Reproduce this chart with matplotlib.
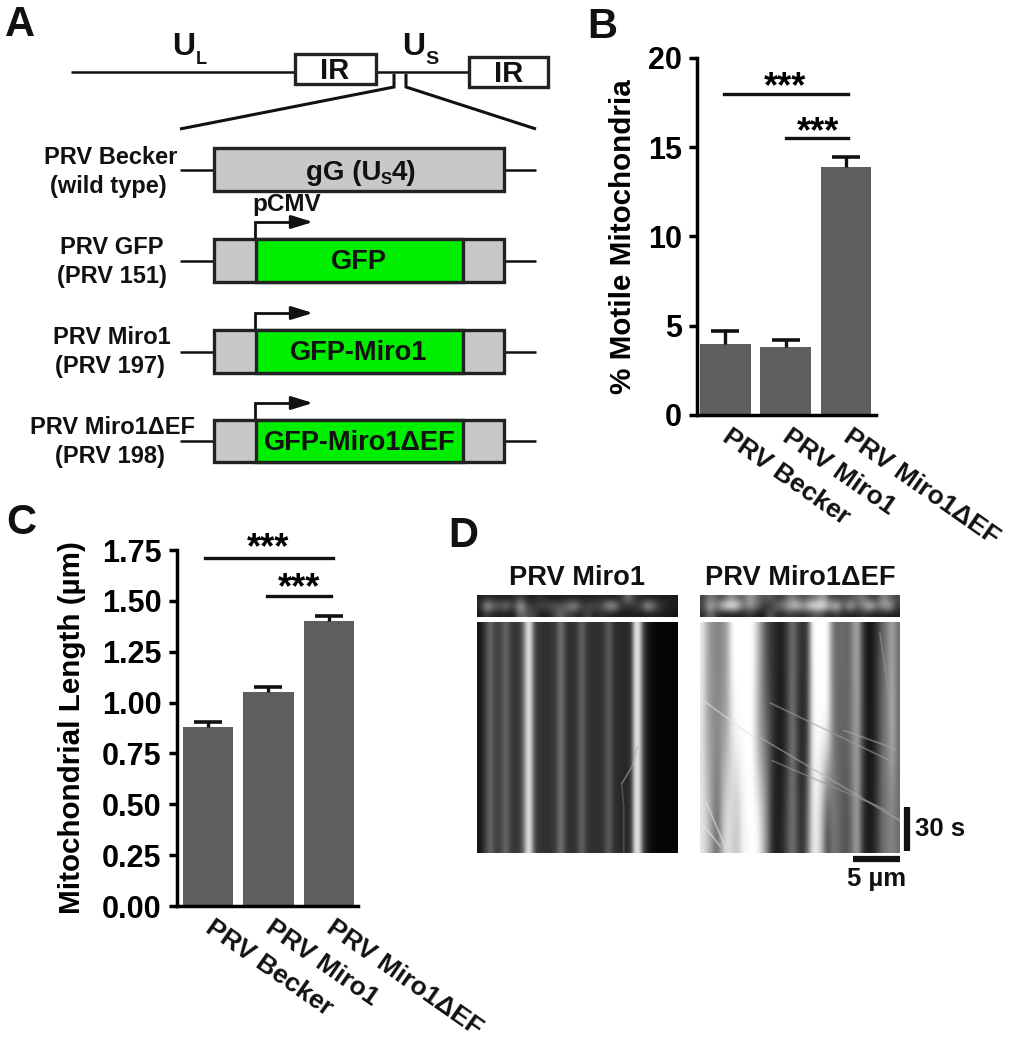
import matplotlib
matplotlib.use('Agg')
import matplotlib.pyplot as plt
import numpy as np

plt.rcParams['font.family'] = ['Liberation Sans', 'DejaVu Sans']
plt.rcParams['font.weight'] = 'bold'

W, H = 1016, 1050
# bar data
cats = ['PRV Becker', 'PRV Miro1', 'PRV Miro1\u0394EF']
motile = [4.0, 3.8, 13.9]
motile_err = [0.69, 0.41, 0.56]
length = [0.88, 1.05, 1.40]
length_err = [0.023, 0.025, 0.025]
bar_color = '#5e5e5e'

# kymograph brightness, one value per column (read across the image)
kymo_left = [20, 30, 55, 80, 105, 80, 65, 65, 80, 105, 85, 60, 55, 55, 70, 110, 200, 230, 150, 70,
             55, 50, 48, 48, 50, 55, 70, 110, 105, 65, 50, 48, 50, 65, 95, 90, 60, 50, 48, 48,
             48, 50, 60, 90, 85, 55, 45, 42, 40, 40, 42, 70, 200, 235, 180, 70, 35, 20, 12, 8,
             6, 5, 5, 5, 5, 5, 5]
kymo_right_top = [235, 170, 140, 130, 140, 170, 255, 255, 255, 255, 255, 200, 130, 70, 50, 35, 30, 70, 115, 70,
                  45, 60, 250, 255, 255, 255, 130, 100, 110, 95, 130, 180, 70, 20, 25, 60, 100, 130, 170, 110]
kymo_right_mid = [225, 165, 150, 140, 150, 170, 230, 255, 255, 255, 255, 170, 130, 100, 60, 25, 25, 60, 130, 60,
                  30, 60, 240, 255, 255, 255, 140, 100, 100, 100, 130, 170, 70, 20, 25, 60, 110, 130, 190, 110]
kymo_right_bot = [230, 200, 150, 100, 190, 230, 210, 190, 240, 250, 255, 255, 200, 130, 40, 30, 40, 80, 120, 75,
                  40, 110, 230, 235, 170, 60, 120, 110, 90, 80, 120, 170, 60, 25, 30, 60, 110, 120, 130, 110]
strip_left = [[30, 40, 35, 35, 30, 35, 70, 30, 30, 50, 30, 25, 30, 30, 30, 30, 35, 30, 40, 30, 30, 40, 130, 60, 30, 30, 30, 30, 30, 25],
              [40, 190, 110, 100, 130, 60, 200, 70, 60, 70, 80, 90, 90, 120, 170, 80, 60, 90, 70, 170, 170, 60, 50, 60, 80, 190, 110, 50, 40, 30],
              [20, 60, 30, 30, 30, 20, 120, 80, 70, 30, 30, 60, 110, 60, 50, 30, 80, 30, 50, 30, 30, 25, 30, 30, 25, 30, 30, 30, 25, 20]]
strip_right = [[60, 130, 90, 70, 150, 110, 90, 170, 110, 80, 100, 60, 60, 130, 100, 70, 100, 120, 170, 70, 60, 70, 70, 100, 120, 60, 60, 150, 90, 70],
               [70, 200, 120, 230, 255, 255, 120, 170, 120, 60, 50, 110, 140, 190, 230, 160, 240, 255, 255, 170, 230, 90, 200, 100, 150, 230, 120, 170, 190, 60],
               [40, 120, 50, 30, 30, 30, 30, 60, 30, 20, 100, 40, 40, 60, 40, 50, 50, 90, 60, 30, 60, 30, 30, 30, 50, 30, 30, 30, 30, 30]]

# moving particle tracks, fractions of image width / height
left_tracks = [([0.797, 0.775, 0.72], [0.54, 0.62, 0.70], 170), ([0.72, 0.73, 0.73], [0.70, 0.80, 1.0], 110)]
right_tracks = [([0.0, 0.27], [0.33, 0.50], 225), ([0.30, 1.0], [0.50, 0.86], 175), ([0.35, 0.95], [0.35, 0.60], 160),
                ([0.36, 0.95], [0.60, 0.82], 150), ([0.72, 0.98], [0.47, 0.55], 170), ([0.0, 0.10], [0.86, 0.97], 235),
                ([0.90, 0.95], [0.05, 0.35], 150), ([0.03, 0.13], [0.78, 0.98], 230)]

fig = plt.figure(figsize=(W / 100, H / 100), dpi=100, facecolor='white')


def px_axes(x0, y0, x1, y1):
    # y0 is the top edge in image pixels
    return fig.add_axes([x0 / W, 1 - y1 / H, (x1 - x0) / W, (y1 - y0) / H])


bg = fig.add_axes([0, 0, 1, 1])
bg.set_xlim(0, W)
bg.set_ylim(H, 0)
bg.axis('off')
ink = '#111111'


def line(xs, ys, lw=2.0, c=ink):
    bg.plot(xs, ys, color=c, lw=lw, solid_capstyle='butt', solid_joinstyle='miter')


def box(x0, y0, x1, y1, fc='white', lw=2.4):
    bg.add_patch(plt.Rectangle((x0, y0), x1 - x0, y1 - y0, fc=fc, ec='#222222', lw=lw, zorder=3))


def txt(x, y, s, size=15, ha='center', **kw):
    bg.text(x, y, s, fontsize=size, ha=ha, va='center', color=ink, fontweight='bold', zorder=5, **kw)


# panel letters
for letter, x, y in [('A', 20, 25), ('B', 602, 27), ('C', 21, 523), ('D', 463, 536)]:
    txt(x, y, letter, size=30)

# panel A, genome line
line([71, 295], [72, 72], 1.8)
box(295, 54, 376, 84)
line([376, 469], [72, 72], 1.8)
box(469, 57, 548, 87)
txt(335, 71, 'IR', 21)
txt(509, 74, 'IR', 21)
txt(184, 47, 'U', 23)
txt(196, 59, 'L', 13, ha='left')
txt(414, 47, 'U', 23)
txt(425, 59, 'S', 14, ha='left')
line([394, 394, 180], [74, 87, 129], 2.2)
line([406, 406, 536], [74, 87, 129], 2.2)

# panel A, constructs
rows = [(148, 191), (239, 282), (330, 373), (420, 462)]
names = [('PRV Becker', 111, 158), ('(wild type)', 108, 186),
         ('PRV GFP', 112, 248), ('(PRV 151)', 112, 277),
         ('PRV Miro1', 112, 338), ('(PRV 197)', 110, 367),
         ('PRV Miro1\u0394EF', 112, 428), ('(PRV 198)', 110, 456)]
for s, x, y in names:
    txt(x, y, s, 17)
for i, (y0, y1) in enumerate(rows):
    ym = (y0 + y1) / 2
    line([180, 214], [ym, ym], 1.8)
    line([504, 536], [ym, ym], 1.8)
    box(214, y0, 504, y1, fc='#c8c8c8')
    if i > 0:
        box(256, y0, 463, y1, fc='#00ee00')
        line([255, 255, 298], [y0, y0 - 17, y0 - 17], 2.0)
        bg.annotate('', xy=(313, y0 - 17), xytext=(292, y0 - 17),
                    arrowprops=dict(arrowstyle='-|>,head_length=0.65,head_width=0.2', color=ink, lw=2,
                                    mutation_scale=20, shrinkA=0, shrinkB=0))
txt(381, 173, 'gG (U', 20, ha='right')
txt(386, 180, 'S', 12)
txt(392, 173, '4)', 20, ha='left')
txt(287, 204, 'pCMV', 17.5)
txt(359, 262, 'GFP', 19.5)
txt(359, 353, 'GFP-Miro1', 19.5)
txt(360, 443, 'GFP-Miro1\u0394EF', 19.5)


def bars(rect, vals, errs, ymax, ticks, ticklabels, ylabel, xlim, lab_x):
    ax = px_axes(*rect)
    x = np.arange(len(cats))
    tops = np.array(vals) + np.array(errs)
    ax.bar(x, vals, width=0.84, color=bar_color)
    ax.vlines(x, vals, tops, color='#111111', lw=2.4)
    ax.plot(x, tops, ls='none', marker='_', ms=20, mew=2.6, color='#111111')
    ax.set_xlim(*xlim)
    ax.set_ylim(0, ymax)
    for s in ['top', 'right']:
        ax.spines[s].set_visible(False)
    for s in ['left', 'bottom']:
        ax.spines[s].set_linewidth(2.5)
    ax.set_yticks(ticks)
    ax.set_yticklabels(ticklabels, fontsize=22, fontweight='bold')
    ax.tick_params(axis='y', width=2.5, length=6, pad=5)
    ax.set_xticks([])
    for xi, c in zip(x, cats):
        ax.annotate(c, (xi, 0), xycoords=('data', 'axes fraction'), xytext=(4.7, -7), textcoords='offset points',
                    rotation=-35, ha='left', va='top', rotation_mode='anchor', fontsize=19, fontweight='bold',
                    color=ink, annotation_clip=False)
    ax.set_ylabel(ylabel, fontsize=21.3, fontweight='bold')
    ax.yaxis.set_label_coords(lab_x, 0.5)
    ax.patch.set_alpha(0)
    return ax


ax_b = bars((697, 58, 876, 415), motile, motile_err, 20, [0, 5, 10, 15, 20], ['0', '5', '10', '15', '20'],
            '% Motile Mitochondria', (-0.473, 2.5), -0.335)
ax_b.plot([-0.03, 2.03], [18.0, 18.0], color=ink, lw=2.4, clip_on=False)
ax_b.plot([1.0, 2.03], [15.5, 15.5], color=ink, lw=2.4, clip_on=False)
ax_b.text(0.99, 18.35, '***', fontsize=26, ha='center', va='center', fontweight='bold')
ax_b.text(1.53, 15.83, '***', fontsize=26, ha='center', va='center', fontweight='bold')

ax_c = bars((177, 550, 358, 906), length, length_err, 1.75, [0, 0.25, 0.5, 0.75, 1.0, 1.25, 1.5, 1.75],
            ['0.00', '0.25', '0.50', '0.75', '1.00', '1.25', '1.50', '1.75'],
            'Mitochondrial Length (\u00b5m)', (-0.512, 2.48), -0.505)
ax_c.plot([-0.05, 2.07], [1.711, 1.711], color=ink, lw=2.4, clip_on=False)
ax_c.plot([0.97, 2.03], [1.524, 1.524], color=ink, lw=2.4, clip_on=False)
ax_c.text(1.0, 1.757, '***', fontsize=26, ha='center', va='center', fontweight='bold')
ax_c.text(1.5, 1.56, '***', fontsize=26, ha='center', va='center', fontweight='bold')


def gray_axes(rect, data, tracks=()):
    ax = px_axes(*rect)
    ax.imshow(np.array(data), cmap='gray', vmin=0, vmax=255, aspect='auto', interpolation='bicubic', extent=(0, 1, 1, 0))
    for xs, ys, g in tracks:
        ax.plot(xs, ys, color=str(g / 255), lw=1.2, alpha=0.55)
    ax.set_xlim(0, 1)
    ax.set_ylim(1, 0)
    ax.axis('off')


# panel D
txt(577, 578, 'PRV Miro1', 19.6)
txt(800, 578, 'PRV Miro1\u0394EF', 19.6)
gray_axes((477, 595, 678, 617), strip_left)
gray_axes((700, 595, 900, 617), strip_right)
gray_axes((477, 622, 678, 853), [kymo_left], left_tracks)
gray_axes((700, 622, 900, 853), [kymo_right_top, kymo_right_mid, kymo_right_bot], right_tracks)
line([907, 907], [807, 851], 4.5)
line([853, 900], [859, 859], 4.5)
txt(940, 829, '30 s', 18.5)
txt(877, 879, '5 \u00b5m', 18.5)

fig.savefig('out.png', dpi=100)
